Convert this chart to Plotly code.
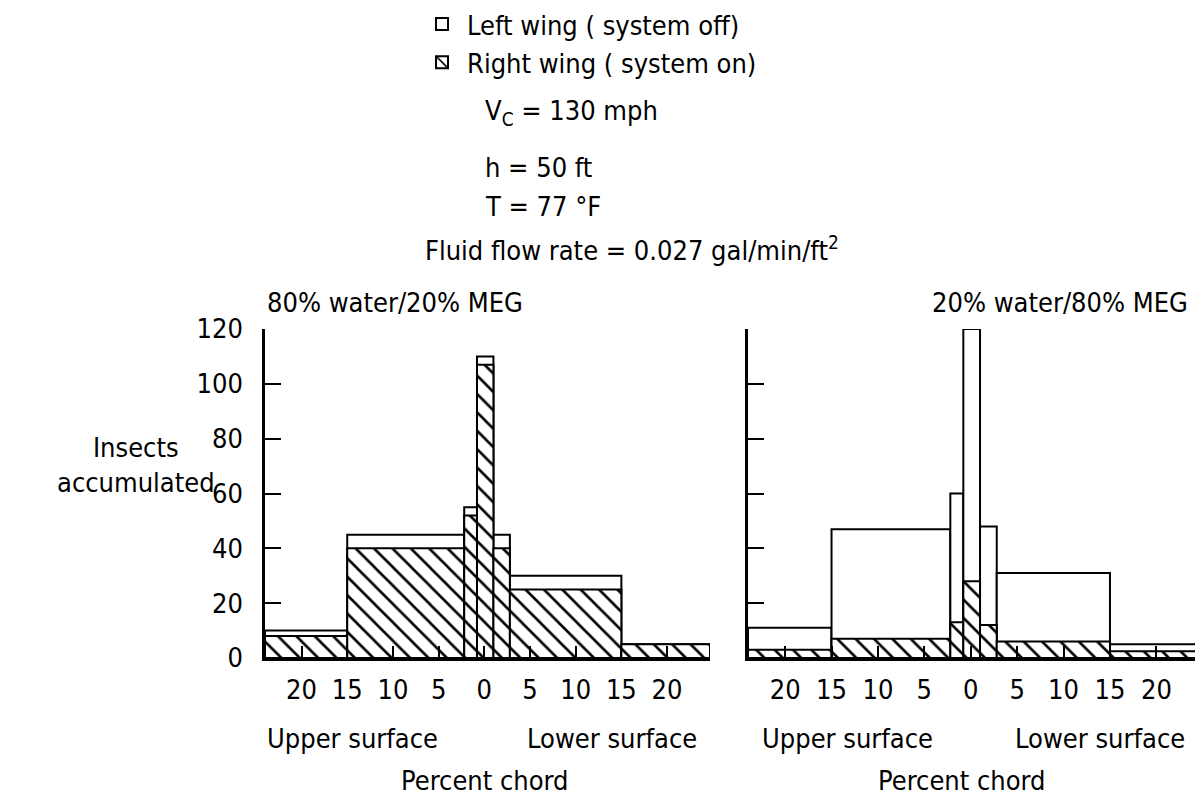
import plotly.graph_objects as go
import numpy as np

# bin edges in percent chord (upper surface negative, lower surface positive)
edges = [-24.0, -15.0, -2.2, -0.8, 1.0, 2.8, 15.0, 24.7]

# 80% water / 20% MEG
left_off_a = [10, 45, 55, 110, 45, 30, 5]
right_on_a = [8, 40, 52, 107, 40, 25, 5]

# 20% water / 80% MEG
left_off_b = [11, 47, 60, 120, 48, 31, 5]
right_on_b = [3, 7, 13, 28, 12, 6, 2.5]

tick_vals = [-20, -15, -10, -5, 0, 5, 10, 15, 20]
tick_text = ['20', '15', '10', '5', '0', '5', '10', '15', '20']
y_ticks = [0, 20, 40, 60, 80, 100, 120]

FONT = 'Liberation Sans Narrow, DejaVu Sans Condensed, Arial Narrow, sans-serif'
# page body margin of 8px: the figure is drawn 8px in from the window corner
OFF = 8
W, H = 1203 - OFF, 799 - OFF


def fx(px):
    return (px - OFF) / W


def fy(py):
    return 1 - (py - OFF) / H


e = np.array(edges)
centers = (e[:-1] + e[1:]) / 2
widths = e[1:] - e[:-1]

fig = go.Figure()


def add_panel(off, on, xa, ya, show_legend):
    fig.add_trace(go.Bar(
        x=centers, y=off, width=widths, xaxis=xa, yaxis=ya,
        name='Left wing ( system off)', showlegend=show_legend,
        marker=dict(color='white', line=dict(color='black', width=2)),
    ))
    fig.add_trace(go.Bar(
        x=centers, y=on, width=widths, xaxis=xa, yaxis=ya,
        name='Right wing ( system on)', showlegend=show_legend,
        marker=dict(color='white', line=dict(color='black', width=2),
                    pattern=dict(shape='\\', fgcolor='black', bgcolor='white',
                                 size=13, solidity=0.2)),
    ))


add_panel(left_off_a, right_on_a, 'x', 'y', True)
add_panel(left_off_b, right_on_b, 'x2', 'y2', False)

xcommon = dict(range=[edges[0], edges[-1]], tickvals=tick_vals, ticktext=tick_text,
               showline=True, linecolor='black', linewidth=2.5, ticks='inside',
               ticklen=12, tickwidth=2, tickcolor='black', showgrid=False,
               zeroline=False, ticklabelstandoff=6, automargin=False,
               tickfont=dict(family=FONT, size=27, color='black'))
ycommon = dict(range=[0, 120], tickvals=y_ticks, showline=True, linecolor='black',
               linewidth=2.5, ticks='inside', ticklen=16, tickwidth=2,
               tickcolor='black', showgrid=False, zeroline=False, automargin=False,
               tickfont=dict(family=FONT, size=27, color='black'))

yd = [fy(658), fy(329)]
fig.update_layout(
    template='none',
    xaxis=dict(domain=[fx(265), fx(710)], anchor='y', **xcommon),
    xaxis2=dict(domain=[fx(748), fx(1200)], anchor='y2', **xcommon),
    yaxis=dict(domain=yd, anchor='x', ticklabelstandoff=14, **ycommon),
    yaxis2=dict(domain=yd, anchor='x2', showticklabels=False, **ycommon),
    barmode='overlay',
    width=W, height=H,
    margin=dict(l=0, r=0, t=0, b=0, pad=0, autoexpand=False),
    paper_bgcolor='white', plot_bgcolor='white',
    font=dict(family=FONT, size=27, color='black'),
    legend=dict(x=fx(417), y=fy(0), xanchor='left', yanchor='top',
                bgcolor='rgba(0,0,0,0)', font=dict(size=27), tracegroupgap=0,
                itemwidth=40),
)


def note(text, px, py, xanchor='left', align='left'):
    fig.add_annotation(text=text, x=fx(px), y=fy(py), xref='paper', yref='paper',
                       xanchor=xanchor, yanchor='middle', showarrow=False, align=align,
                       font=dict(family=FONT, size=27, color='black'))


note('V<sub>C</sub> = 130 mph', 483, 112)
note('h = 50 ft', 483, 168)
note('T = 77 °F', 483, 206)
note('Fluid flow rate = 0.027 gal/min/ft<sup>2</sup>', 423, 248)
note('80% water/20% MEG', 265, 302)
note('20% water/80% MEG', 1190, 302, xanchor='right')
note('Insects<br>accumulated', 136, 465, xanchor='center', align='center')
note('Upper surface', 352, 738, xanchor='center')
note('Lower surface', 612, 738, xanchor='center')
note('Percent chord', 485, 780, xanchor='center')
note('Upper surface', 848, 738, xanchor='center')
note('Lower surface', 1100, 738, xanchor='center')
note('Percent chord', 962, 780, xanchor='center')

fig.write_html('out.html')
